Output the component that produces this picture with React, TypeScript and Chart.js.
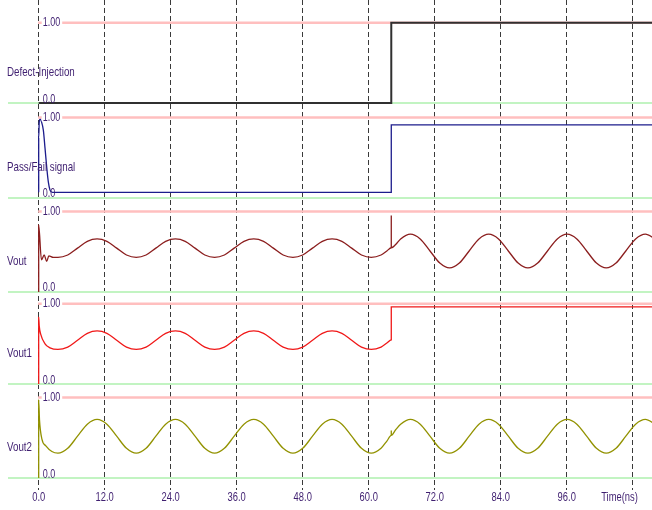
import React, { useEffect, useRef } from "react";
import { Chart, registerables } from "chart.js";

Chart.register(...registerables);

// ---------- data (time in ns, level in normalized units 0..1) ----------
const tickValues = [0, 12, 24, 36, 48, 60, 72, 84, 96, 108];
const rowNames = ["Defect-Injection", "Pass/Fail signal", "Vout", "Vout1", "Vout2"];
const highLabel = "1.00";
const lowLabel = "0.0";
const axisTitle = "Time(ns)";

const defectInjection: [number, number][] = [
  [0, 0], [64.1, 0], [64.1, 1], [112, 1],
];

const passFail: [number, number][] = [
  [0, 0.07], [0, 0.75], [0.1, 0.95], [0.25, 0.98], [0.5, 0.95], [0.85, 0.84],
  [1.15, 0.62], [1.45, 0.39], [1.75, 0.2], [2.05, 0.1], [2.5, 0.07],
  [64.1, 0.07], [64.1, 0.91], [112, 0.91],
];

const vout: [number, number][] = [
  [0, 0], [0, 0.83], [0.5, 0.4], [1.0, 0.46], [1.45, 0.38], [1.85, 0.45], [2.65, 0.43],
  [3.5, 0.43], [5.28, 0.46], [7.06, 0.545], [8.84, 0.63], [10.62, 0.66], [12.4, 0.63], [14.18, 0.545], [15.96, 0.46],
  [17.74, 0.43], [19.52, 0.46], [21.3, 0.545], [23.08, 0.63], [24.86, 0.66], [26.64, 0.63], [28.42, 0.545], [30.2, 0.46],
  [31.98, 0.43], [33.76, 0.46], [35.54, 0.545], [37.32, 0.63], [39.1, 0.66], [40.88, 0.63], [42.66, 0.545], [44.44, 0.46],
  [46.22, 0.43], [48.0, 0.46], [49.78, 0.545], [51.56, 0.63], [53.34, 0.66], [55.12, 0.63], [56.9, 0.545], [58.68, 0.46],
  [60.46, 0.43], [62.24, 0.46], [63.3, 0.51],
  [64.1, 0.55], [64.1, 0.95], [64.1, 0.55], [64.9, 0.59],
  [65.8, 0.66], [67.58, 0.72], [69.36, 0.66], [71.14, 0.51], [72.92, 0.36],
  [74.7, 0.3], [76.48, 0.36], [78.26, 0.51], [80.04, 0.66], [81.82, 0.72], [83.6, 0.66], [85.38, 0.51], [87.16, 0.36],
  [88.94, 0.3], [90.72, 0.36], [92.5, 0.51], [94.28, 0.66], [96.06, 0.72], [97.84, 0.66], [99.62, 0.51], [101.4, 0.36],
  [103.18, 0.3], [104.96, 0.36], [106.74, 0.51], [108.52, 0.66], [110.3, 0.72], [112.08, 0.66],
];

const vout1: [number, number][] = [
  [0, 0], [0, 0.83], [0.1, 0.72], [0.36, 0.62], [1.15, 0.5], [2.05, 0.45],
  [3.5, 0.43], [5.28, 0.46], [7.06, 0.545], [8.84, 0.63], [10.62, 0.66], [12.4, 0.63], [14.18, 0.545], [15.96, 0.46],
  [17.74, 0.43], [19.52, 0.46], [21.3, 0.545], [23.08, 0.63], [24.86, 0.66], [26.64, 0.63], [28.42, 0.545], [30.2, 0.46],
  [31.98, 0.43], [33.76, 0.46], [35.54, 0.545], [37.32, 0.63], [39.1, 0.66], [40.88, 0.63], [42.66, 0.545], [44.44, 0.46],
  [46.22, 0.43], [48.0, 0.46], [49.78, 0.545], [51.56, 0.63], [53.34, 0.66], [55.12, 0.63], [56.9, 0.545], [58.68, 0.46],
  [60.46, 0.43], [62.24, 0.46], [63.3, 0.51],
  [64.1, 0.55], [64.1, 0.96], [112, 0.96],
];

const vout2: [number, number][] = [
  [0, 0], [0, 0.97], [0.15, 0.72], [0.6, 0.48], [1.3, 0.4], [2.4, 0.33],
  [3.5, 0.31], [5.28, 0.37], [7.06, 0.52], [8.84, 0.67], [10.62, 0.73], [12.4, 0.67], [14.18, 0.52], [15.96, 0.37],
  [17.74, 0.31], [19.52, 0.37], [21.3, 0.52], [23.08, 0.67], [24.86, 0.73], [26.64, 0.67], [28.42, 0.52], [30.2, 0.37],
  [31.98, 0.31], [33.76, 0.37], [35.54, 0.52], [37.32, 0.67], [39.1, 0.73], [40.88, 0.67], [42.66, 0.52], [44.44, 0.37],
  [46.22, 0.31], [48.0, 0.37], [49.78, 0.52], [51.56, 0.67], [53.34, 0.73], [55.12, 0.67], [56.9, 0.52], [58.68, 0.37],
  [60.46, 0.31], [62.24, 0.37], [63.3, 0.46],
  [64.1, 0.53], [64.1, 0.59], [64.1, 0.53], [64.9, 0.6],
  [65.8, 0.67], [67.58, 0.73], [69.36, 0.67], [71.14, 0.52], [72.92, 0.37],
  [74.7, 0.31], [76.48, 0.37], [78.26, 0.52], [80.04, 0.67], [81.82, 0.73], [83.6, 0.67], [85.38, 0.52], [87.16, 0.37],
  [88.94, 0.31], [90.72, 0.37], [92.5, 0.52], [94.28, 0.67], [96.06, 0.73], [97.84, 0.67], [99.62, 0.52], [101.4, 0.37],
  [103.18, 0.31], [104.96, 0.37], [106.74, 0.52], [108.52, 0.67], [110.3, 0.73], [112.08, 0.67],
];

// ---------- layout / style ----------
const X_MIN = -5.58;
const X_MAX = 111.5;
const Y_MAX = 6.0945;
const ROW_ZERO = [4.813, 3.632, 2.463, 1.318, 0.149];
const LABEL_LEVEL = 0.38;
const TITLE_AT = 105.6;
const signals = [defectInjection, passFail, vout, vout1, vout2];
const signalColors = ["#303030", "#1c1c8c", "#8b1e1e", "#f01818", "#929200"];
const signalWidths = [2, 1.3, 1.3, 1.3, 1.3];
const PINK = "#ffbfbf";
const GREEN = "#c2f4c2";
const TEXT = "#3f1f70";
const FONT = "'Liberation Sans', Arial, sans-serif";
const CONDENSE = 0.75;

function narrowText(ctx: CanvasRenderingContext2D, text: string, x: number, y: number) {
  ctx.save();
  ctx.translate(x, y);
  ctx.scale(CONDENSE, 1);
  ctx.fillText(text, 0, 0);
  ctx.restore();
}

const labelsPlugin = {
  id: "waveLabels",
  afterDatasetsDraw(chart: any) {
    const { ctx, scales } = chart;
    const x = scales.x;
    const y = scales.y;
    ctx.save();
    const x0 = x.getPixelForValue(0);
    rowNames.forEach((name, i) => {
      const z = ROW_ZERO[i];
      ctx.fillStyle = TEXT;
      ctx.font = `13px ${FONT}`;
      ctx.textAlign = "left";
      ctx.textBaseline = "middle";
      narrowText(ctx, name, 7, y.getPixelForValue(z + LABEL_LEVEL));
      ctx.font = `12px ${FONT}`;
      const yh = y.getPixelForValue(z + 1);
      const xl = x0 + 4;
      const w = ctx.measureText(highLabel).width * CONDENSE;
      ctx.fillStyle = "#ffffff";
      ctx.fillRect(xl - 1, yh - 4, w + 3, 8);
      ctx.fillStyle = TEXT;
      narrowText(ctx, highLabel, xl, yh);
      ctx.textBaseline = "alphabetic";
      narrowText(ctx, lowLabel, xl, y.getPixelForValue(z) - 0.5);
    });
    // time axis labels, placed with the x scale
    ctx.font = `12.5px ${FONT}`;
    ctx.textAlign = "center";
    ctx.textBaseline = "middle";
    ctx.fillStyle = TEXT;
    const ly = x.top + 8;
    tickValues.forEach((v) => {
      if (v === 108) return;
      narrowText(ctx, v.toFixed(1), x.getPixelForValue(v), ly);
    });
    narrowText(ctx, axisTitle, x.getPixelForValue(TITLE_AT), ly);
    ctx.restore();
  },
};

export default function App() {
  const ref = useRef<HTMLCanvasElement | null>(null);
  useEffect(() => {
    if (!ref.current) return;
    const datasets: any[] = [];
    signals.forEach((pts, i) => {
      const z = ROW_ZERO[i];
      datasets.push({
        data: pts.map(([t, v]) => ({ x: t, y: z + v })),
        borderColor: signalColors[i],
        borderWidth: signalWidths[i],
        pointRadius: 0,
        cubicInterpolationMode: "monotone",
        order: 0,
      });
      datasets.push({
        data: [{ x: X_MIN, y: z }, { x: X_MAX + 1, y: z }],
        borderColor: GREEN,
        borderWidth: 2,
        pointRadius: 0,
        order: 10,
      });
      datasets.push({
        data: [{ x: -0.1, y: z + 1 }, { x: X_MAX + 1, y: z + 1 }],
        borderColor: PINK,
        borderWidth: 2.5,
        pointRadius: 0,
        order: 10,
      });
    });
    const chart = new Chart(ref.current, {
      type: "line",
      data: { datasets },
      options: {
        animation: false,
        responsive: false,
        layout: { padding: { left: 8, right: 0, top: 0, bottom: 0 } },
        plugins: { legend: { display: false }, tooltip: { enabled: false } },
        scales: {
          x: {
            type: "linear",
            min: X_MIN,
            max: X_MAX,
            afterBuildTicks: (scale: any) => {
              scale.ticks = tickValues.map((v) => ({ value: v }));
            },
            afterFit: (scale: any) => {
              scale.height = 20;
            },
            ticks: { display: false, autoSkip: false, maxRotation: 0, padding: 0 },
            grid: { color: "#3a3a3a", lineWidth: 1, drawTicks: false },
            border: { display: false, dash: [5, 3] },
          },
          y: { type: "linear", min: 0, max: Y_MAX, display: false },
        },
      } as any,
      plugins: [labelsPlugin],
    });
    return () => chart.destroy();
  }, []);
  return (
    <div style={{ position: "absolute", left: 0, top: 0, width: 652, height: 510, background: "#fff" }}>
      <canvas ref={ref} width={652} height={510} style={{ display: "block" }} />
    </div>
  );
}
